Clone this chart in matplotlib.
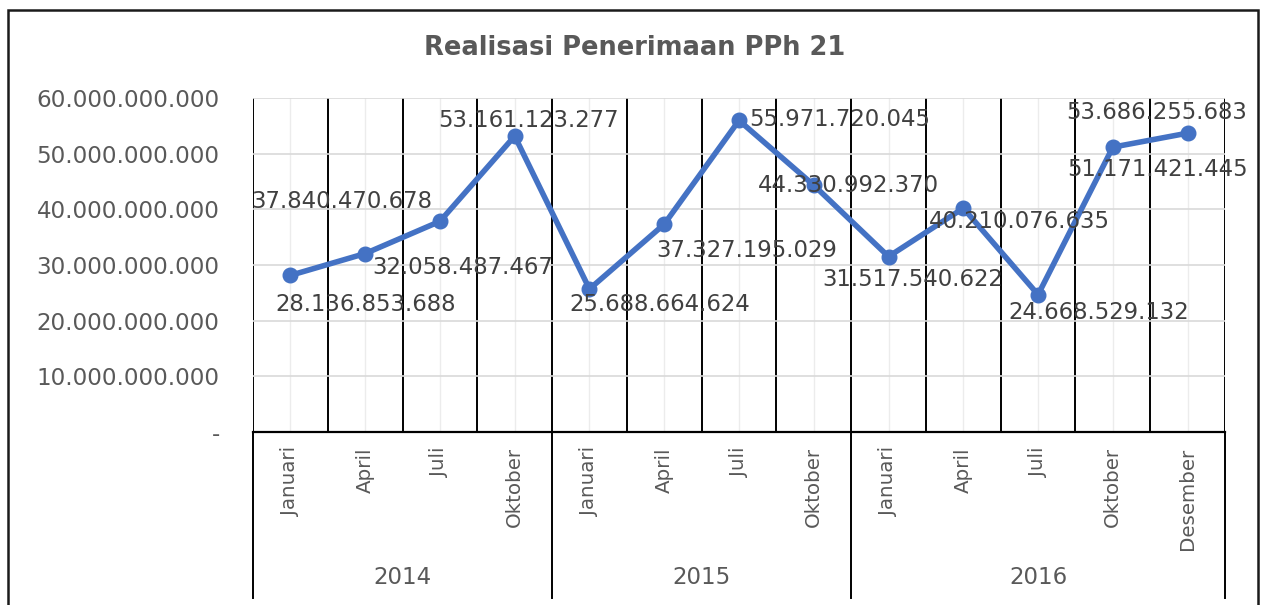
import numpy as np
import matplotlib
matplotlib.use("Agg")
import matplotlib.pyplot as plt
import matplotlib.transforms as mtransforms
from matplotlib.patches import Rectangle
from matplotlib.ticker import FuncFormatter

# Data
years = ["2014", "2015", "2016"]
months = ["Januari", "April", "Juli", "Oktober",
          "Januari", "April", "Juli", "Oktober",
          "Januari", "April", "Juli", "Oktober", "Desember"]
year_sizes = [4, 4, 5]
values = [28136853688, 32058487467, 37840470678, 53161123277,
          25688664624, 37327195029, 55971720045, 44330992370,
          31517540622, 40210076635, 24668529132, 51171421445, 53686255683]

# label offsets (pixels) as placed in the source chart
label_offsets = [(75, -29), (98, -14), (-98, 20), (14, 16),
                 (70, -16), (83, -26), (101, 1), (35, 0),
                 (24, -23), (56, -13), (61, -18), (45, -22), (-31, 21)]

W, H = 1263, 605
fig = plt.figure(figsize=(W / 100, H / 100), dpi=100)
plt.rcParams['font.family'] = ['DejaVu Sans']

# outer chart border
fig.patches.append(Rectangle((8 / W, -0.02), 1250 / W, 1 - 10 / H + 0.02,
                             transform=fig.transFigure, fill=False,
                             edgecolor='#1a1a1a', linewidth=1.8))

ax = fig.add_axes([253 / W, 1 - 432 / H, 972 / W, 334 / H])
x = np.arange(len(values))
ax.plot(x, values, color='#4472C4', linewidth=4.0, marker='o',
        markersize=10.5, zorder=5, solid_capstyle='round')

ax.set_xlim(-0.5, len(values) - 0.5)
ax.set_ylim(0, 60e9)
ax.set_yticks(np.arange(0, 60e9 + 1, 10e9))

def fmt(v, pos):
    if v == 0:
        return "-"
    return "{:,.0f}".format(v).replace(",", ".")

ax.yaxis.set_major_formatter(FuncFormatter(fmt))

# gridlines: black at category boundaries, light gray at centres
ax.set_xticks(np.arange(-0.5, len(values)), minor=False)
ax.set_xticks(x, minor=True)
ax.grid(axis='x', which='major', color='black', linewidth=1.4, zorder=1)
ax.grid(axis='x', which='minor', color='#ececec', linewidth=1.0, zorder=0)
ax.grid(axis='y', which='major', color='#d9d9d9', linewidth=1.2, zorder=0)
ax.set_xticklabels([])
ax.set_xticklabels(months, minor=True, rotation=90, fontsize=14.3,
                   color='#595959', va='top')
ax.tick_params(axis='x', which='both', length=0, pad=11)
ax.tick_params(axis='y', length=0, pad=24, labelsize=16.6, labelcolor='#595959')

for s in ['top', 'left', 'right']:
    ax.spines[s].set_visible(False)
ax.spines['bottom'].set_color('black')
ax.spines['bottom'].set_linewidth(1.6)

# year separators below axis and year labels
trans = mtransforms.blended_transform_factory(ax.transData, ax.transAxes)
bounds = np.concatenate([[0], np.cumsum(year_sizes)]) - 0.5
for b in bounds:
    ax.plot([b, b], [0, -0.497], color='black', linewidth=1.4,
            transform=trans, clip_on=False)
for i, yr in enumerate(years):
    ax.text((bounds[i] + bounds[i + 1]) / 2, -0.437, yr, transform=trans,
            ha='center', va='center', fontsize=16.5, color='#595959')

# data labels
for xi, v, off in zip(x, values, label_offsets):
    ax.annotate(fmt(v, None), (xi, v), xytext=off, textcoords='offset pixels',
                ha='center', va='center', fontsize=16.4, color='#404040',
                zorder=6)

fig.text(635 / W, 1 - 48 / H, "Realisasi Penerimaan PPh 21", ha='center',
         va='center', fontsize=18.5, fontweight='bold', color='#595959')

fig.savefig("out.png", dpi=100)
